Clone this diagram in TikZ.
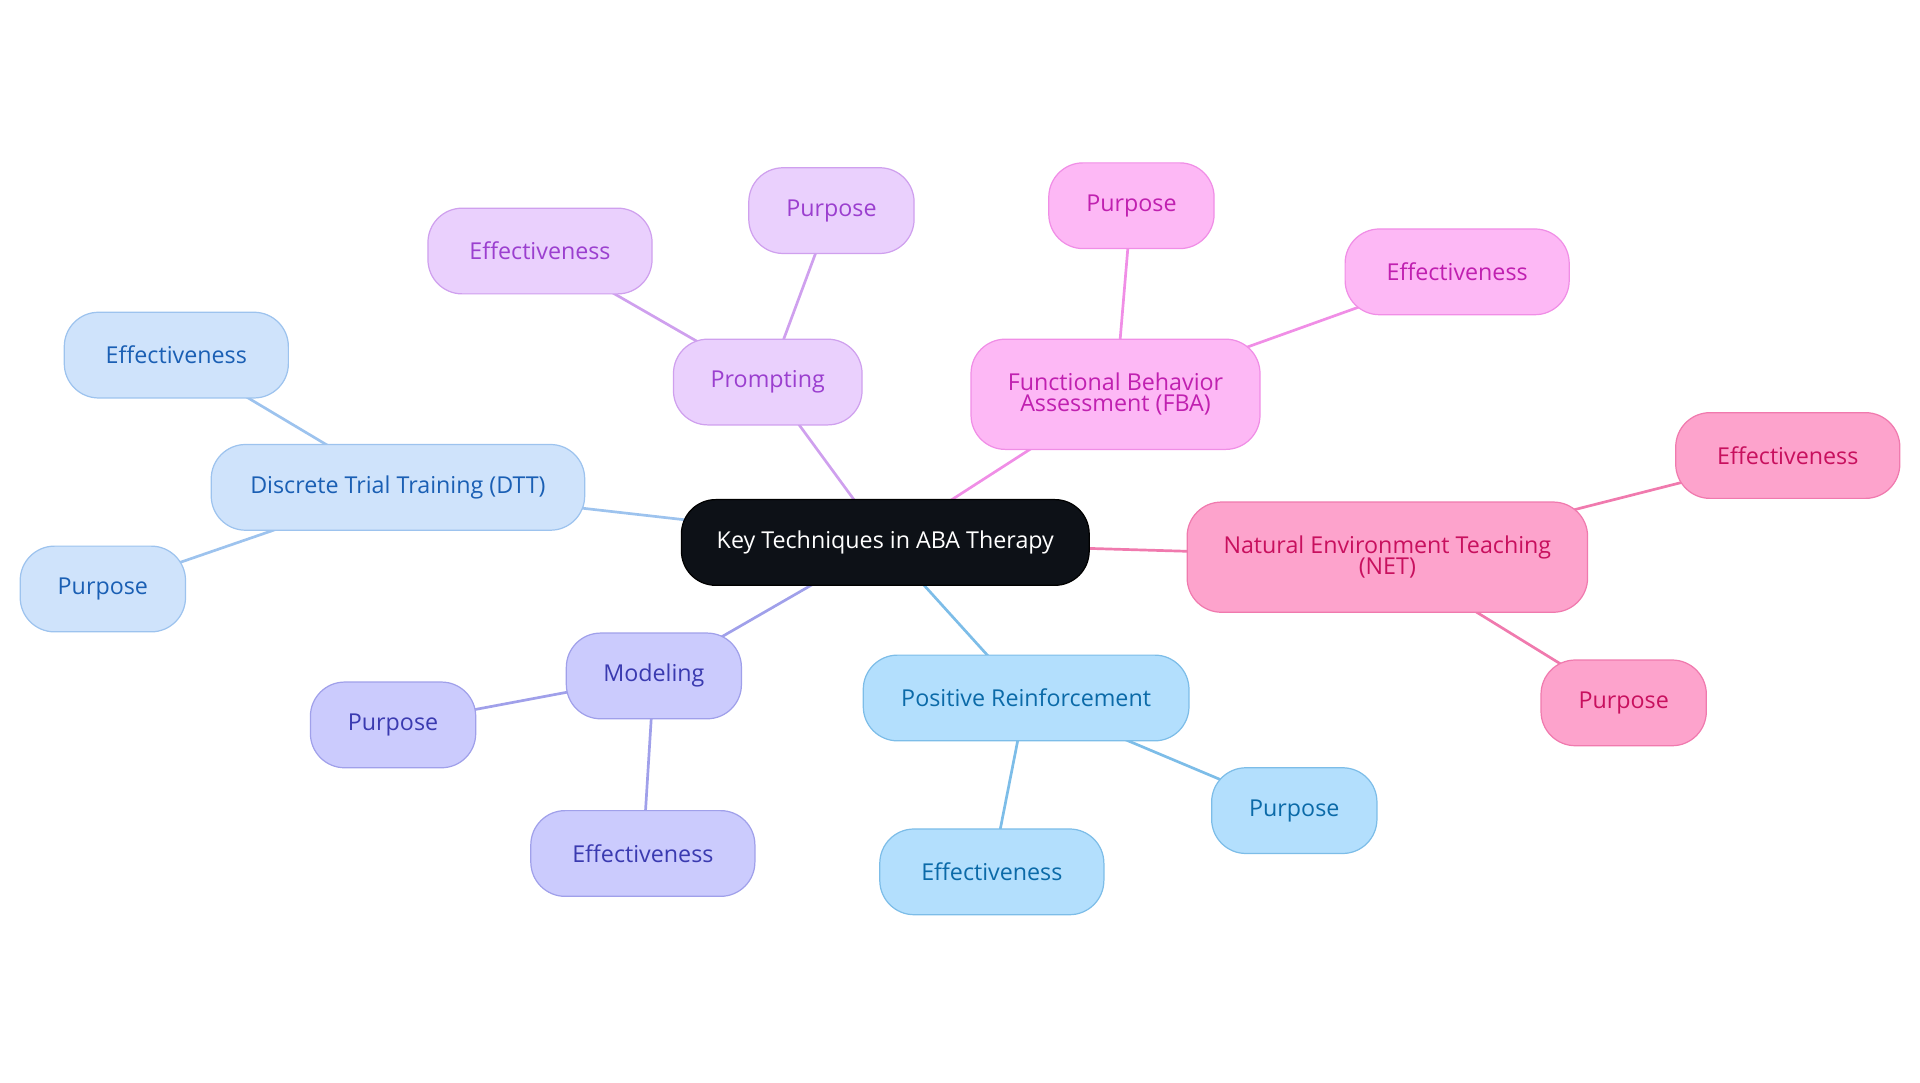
\documentclass[tikz,border=0pt]{standalone}
\usepackage{fontspec}
\setmainfont{Open Sans}
\pgfdeclarelayer{edgelayer}
\pgfdeclarelayer{nodelayer}
\pgfsetlayers{edgelayer,nodelayer,main}
\definecolor{dttfill}{HTML}{CFE3FB}\definecolor{dttline}{HTML}{9DC3EE}\definecolor{dtttext}{HTML}{1A5FB4}
\definecolor{prfill}{HTML}{EAD0FD}\definecolor{prline}{HTML}{CFA0EE}\definecolor{prtext}{HTML}{9B3FCF}
\definecolor{fbafill}{HTML}{FDB8F5}\definecolor{fbaline}{HTML}{F08EE6}\definecolor{fbatext}{HTML}{C020B0}
\definecolor{netfill}{HTML}{FDA3CC}\definecolor{netline}{HTML}{F07AAE}\definecolor{nettext}{HTML}{C8105E}
\definecolor{modfill}{HTML}{CBCBFD}\definecolor{modline}{HTML}{A0A0EA}\definecolor{modtext}{HTML}{3A3AB0}
\definecolor{posfill}{HTML}{B3DFFD}\definecolor{posline}{HTML}{7DBDE8}\definecolor{postext}{HTML}{0B6AA8}
\definecolor{rootfill}{HTML}{0D1117}
\tikzstyle{topic}=[rounded corners=28pt,minimum height=70pt,align=center,font=\fontsize{19}{21}\selectfont,line width=1pt]
\tikzstyle{dtt}=[topic,fill=dttfill,draw=dttline,text=dtttext]
\tikzstyle{prm}=[topic,fill=prfill,draw=prline,text=prtext]
\tikzstyle{fba}=[topic,fill=fbafill,draw=fbaline,text=fbatext]
\tikzstyle{net}=[topic,fill=netfill,draw=netline,text=nettext]
\tikzstyle{mdl}=[topic,fill=modfill,draw=modline,text=modtext]
\tikzstyle{reinf}=[topic,fill=posfill,draw=posline,text=postext]
\tikzstyle{branch}=[line width=2.2pt]
\begin{document}
\begin{tikzpicture}[x=1pt,y=-1pt]
	\useasboundingbox (0,0) rectangle (1568,884);
	\begin{pgfonlayer}{nodelayer}
		\node [topic,fill=rootfill,draw=black,text=white,minimum width=333pt] (root) at (723,443) {Key Techniques in ABA Therapy};
		\node [style=dtt,minimum width=305pt] (dtt) at (325,398) {Discrete Trial Training (DTT)};
		\node [style=dtt,minimum width=183pt] (dtte) at (144,290) {Effectiveness};
		\node [style=dtt,minimum width=135pt] (dttp) at (84,481) {Purpose};
		\node [style=prm,minimum width=154pt] (prm) at (627,312) {Prompting};
		\node [style=prm,minimum width=183pt] (prme) at (441,205) {Effectiveness};
		\node [style=prm,minimum width=135pt] (prmp) at (679,172) {Purpose};
		\node [style=fba,minimum width=236pt,minimum height=90pt] (fba) at (911,322) {Functional Behavior\\[-4pt]Assessment (FBA)};
		\node [style=fba,minimum width=135pt] (fbap) at (924,168) {Purpose};
		\node [style=fba,minimum width=183pt] (fbae) at (1190,222) {Effectiveness};
		\node [style=net,minimum width=327pt,minimum height=90pt] (net) at (1133,455) {Natural Environment Teaching\\[-4pt](NET)};
		\node [style=net,minimum width=183pt] (nete) at (1460,372) {Effectiveness};
		\node [style=net,minimum width=135pt] (netp) at (1326,574) {Purpose};
		\node [style=mdl,minimum width=143pt] (mdl) at (534,552) {Modeling};
		\node [style=mdl,minimum width=135pt] (mdlp) at (321,592) {Purpose};
		\node [style=mdl,minimum width=183pt] (mdle) at (525,697) {Effectiveness};
		\node [style=reinf,minimum width=266pt] (reinf) at (838,570) {Positive Reinforcement};
		\node [style=reinf,minimum width=135pt] (reinfp) at (1057,662) {Purpose};
		\node [style=reinf,minimum width=183pt] (reinfe) at (810,712) {Effectiveness};
	\end{pgfonlayer}
	\begin{pgfonlayer}{edgelayer}
		\draw [style=branch,draw=dttline] (root.center) to (dtt.center) (dtt.center) to (dtte.center) (dtt.center) to (dttp.center);
		\draw [style=branch,draw=prline] (root.center) to (prm.center) (prm.center) to (prme.center) (prm.center) to (prmp.center);
		\draw [style=branch,draw=fbaline] (root.center) to (fba.center) (fba.center) to (fbap.center) (fba.center) to (fbae.center);
		\draw [style=branch,draw=netline] (root.center) to (net.center) (net.center) to (nete.center) (net.center) to (netp.center);
		\draw [style=branch,draw=modline] (root.center) to (mdl.center) (mdl.center) to (mdlp.center) (mdl.center) to (mdle.center);
		\draw [style=branch,draw=posline] (root.center) to (reinf.center) (reinf.center) to (reinfp.center) (reinf.center) to (reinfe.center);
	\end{pgfonlayer}
\end{tikzpicture}
\end{document}
